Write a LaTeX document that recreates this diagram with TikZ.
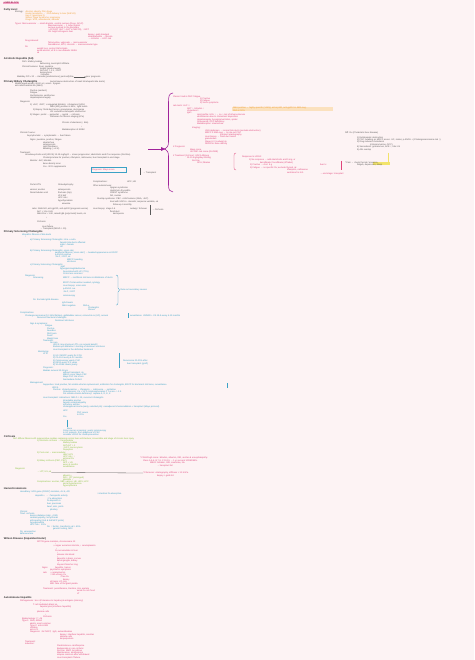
\documentclass[tikz,border=0pt]{standalone}
\usepackage{fontspec}
\setmainfont{Liberation Sans}
\usetikzlibrary{arrows.meta}
\definecolor{bg}{HTML}{FDF3F4}
\definecolor{hd}{HTML}{2E2E2E}
\definecolor{pk}{HTML}{E0457B}
\definecolor{orn}{HTML}{EE9B2A}
\definecolor{dk}{HTML}{5A5A5A}
\definecolor{bl}{HTML}{3BA2C6}
\definecolor{gr}{HTML}{86C23A}
\definecolor{pu}{HTML}{A0229A}
\definecolor{yel}{HTML}{F2E36A}
\definecolor{ohl}{HTML}{FBE1BE}
\definecolor{tbox}{HTML}{F4A3C6}
\newcounter{tlc}
\newcommand\fs{\fontsize{2.2}{2.4}\selectfont}
\newcommand\Tx[4]{\stepcounter{tlc}\node[tx,text=#3] (t\arabic{tlc}) at (#1,#2) {#4};}
\newcommand\Hd[3]{\node[hdg] (#1) at (4,#2) {#3};}
\tikzset{
  tx/.style={anchor=west,inner sep=0pt,outer sep=0pt,font=\fs},
  hdg/.style={anchor=west,inner sep=0pt,outer sep=0pt,text=hd,font=\fontsize{2.6}{2.8}\selectfont\bfseries},
  brk/.style={line width=0.3pt},
}
\begin{document}
\begin{tikzpicture}[x=1pt,y=-1pt]
\useasboundingbox (0,0) rectangle (474,660);
\fill[bg] (0,0) rectangle (474,660);
% title box
\node[anchor=west,fill=tbox,inner sep=0.6pt,text=pk!70!black,font=\fs\bfseries] (title) at (3,3) {LIVER BLOCK};
% ---------- Section 1
\Hd{h1}{10}{Fatty Liver:}
\Tx{15}{12}{dk}{Etiology:}
\Tx{25.5}{12}{orn}{Alcohol, obesity, DM, drugs}
\Tx{25.5}{14}{orn}{Insulin resistance → ↑FFA delivery to liver (NAFLD)}
\Tx{25.5}{16}{orn}{Hep C (genotype 3)}
\Tx{25.5}{18}{orn}{Wilson, Reye syndrome, pregnancy}
\Tx{25.5}{20}{orn}{Drugs: MTX, amiodarone, steroids}
\Tx{15}{24}{pk}{Types: Microvesicular → small droplets, central nucleus (Reye, AFLP)}
\Tx{48}{26}{pk}{Macrovesicular → 1 large droplet}
\Tx{48}{28}{pk}{nucleus pushed to the periphery}
\Tx{48}{30}{pk}{↑ AST/ALT (ALT > AST in NAFLD), ↑ GGT}
\Tx{48}{32}{pk}{US: bright echogenic liver}
\Tx{88}{35}{pk}{biopsy: gold standard}
\Tx{88}{37}{pk}{steatohepatitis → fibrosis}
\Tx{88}{39}{pk}{→ cirrhosis → HCC risk}
\Tx{25}{41}{pk}{Drug induced:}
\Tx{48}{43}{pk}{Tetracycline, valproate → microvesicular}
\Tx{48}{45}{pk}{Amiodarone, MTX, steroids → macrovesicular type}
\Tx{25}{47}{pk}{Rx:}
\Tx{37}{49}{pk}{weight loss, control DM \& lipids}
\Tx{37}{51}{pk}{avoid alcohol; vit E in non-diabetic NASH}
\Tx{37}{53}{pk}{ok}
% ---------- Section 2
\Hd{h2}{59}{Alcoholic Hepatitis (AH)}
\Tx{22}{62}{dk}{Path: Mallory bodies}
\Tx{40}{64}{dk}{ballooning, neutrophil infiltrate}
\Tx{22}{67}{dk}{Clinical features: fever, jaundice}
\Tx{40}{69}{dk}{tender hepatomegaly}
\Tx{40}{71}{dk}{AST:ALT > 2:1, ↑GGT}
\Tx{40}{73}{dk}{leukocytosis}
\Tx{40}{75}{dk}{↑ bilirubin}
\node[tx,text=dk] (mad) at (17,77) {Maddrey DF ≥ 32 → steroids (prednisolone); pentoxifylline};
\node[tx,text=dk] (pp) at (86,77) {poor prognosis};
\draw[dk,brk,-{Stealth[length=1.5pt,width=1.2pt]}] (mad.east) -- (pp.west);
% ---------- Section 3
\Hd{h3}{82}{Primary Biliary Cholangitis}
\Tx{50}{82}{dk}{(autoimmune destruction of small intrahepatic bile ducts)}
\Tx{15}{84}{dk}{Middle aged women 40-60 yrs; assoc. Sjogren}
\Tx{15}{86}{dk}{anti-mitochondrial Ab (AMA)}
\Tx{30}{91}{dk}{Pruritus (earliest)}
\Tx{30}{93}{dk}{Fatigue}
\Tx{30}{96}{dk}{Xanthelasma, xanthomas}
\Tx{30}{98}{dk}{Hepatosplenomegaly}
\Tx{20}{102}{dk}{Diagnosis:}
\Tx{30}{105}{dk}{1) ↑ALP, ↑GGT, ↑conjugated bilirubin; ↑cholesterol (HDL)}
\Tx{50}{107}{dk}{AMA (M2) positive in 95\%; ↑IgM levels}
\Tx{33}{109.5}{dk}{2) Biopsy: florid duct lesion, granulomas, ductopenia}
\Tx{50}{112}{dk}{US: exclude extrahepatic obstruction}
\Tx{30}{114.5}{dk}{3) Stages: portal → periportal → septal → cirrhosis}
\Tx{50}{117}{dk}{Fibroscan for fibrosis staging (kPa)}
\Tx{62}{123}{dk}{Chronic cholestasis (↓ bile)}
\Tx{81}{127}{dk}{↓}
\Tx{62}{130}{dk}{Malabsorption of ADEK}
\Tx{20}{133}{dk}{Clinical Course:}
\Tx{27}{136}{dk}{Asymptomatic → symptomatic → liver failure}
\Tx{30}{140}{dk}{Signs: jaundice, pruritus, fatigue}
\Tx{43}{143}{dk}{steatorrhea}
\Tx{43}{145}{dk}{osteoporosis}
\Tx{43}{147}{dk}{night blindness}
\Tx{43}{149}{dk}{bleeding (↓ vit K)}
\Tx{20}{153}{dk}{Treatment:}
\Tx{25}{155}{dk}{Ursodeoxycholic acid (UDCA) 13-15 mg/kg/d → slows progression; obeticholic acid if no response (2nd line)}
\Tx{43}{157.5}{dk}{Cholestyramine for pruritus; rifampicin, naltrexone; liver transplant in end stage}
\Tx{30}{161}{dk}{Monitor: ALP, bilirubin}
\Tx{43}{164}{dk}{bone density scan}
\Tx{43}{167}{dk}{Ca + Vit D supplements}
\Tx{92}{170}{pk}{Prognosis: Mayo score}
\Tx{143}{173}{dk}{→ Transplant}
\Tx{93}{182}{dk}{Complications:}
\Tx{127}{182}{dk}{HCC, HE}
\Tx{30}{185}{dk}{Portal HTN}
\Tx{58}{185}{dk}{Osteodystrophy}
\Tx{30}{190}{dk}{varices; ascites}
\Tx{58}{190}{dk}{osteoporosis}
\Tx{30}{193}{dk}{Renal tubular acid.}
\Tx{58}{193}{dk}{fractures (hip)}
\Tx{58}{195.5}{dk}{Vit K def}
\Tx{58}{198}{dk}{HCC risk ↑}
\Tx{58}{201}{dk}{hypothyroidism}
\Tx{62}{203.5}{dk}{anaemia}
\Tx{93}{186}{dk}{Other autoimmune:}
\Tx{110}{188}{dk}{Sjogren syndrome}
\Tx{110}{190.5}{dk}{Hashimoto thyroiditis}
\Tx{110}{193}{dk}{CREST syndrome}
\Tx{110}{195.5}{dk}{RA, coeliac}
\Tx{97}{199}{dk}{Overlap syndrome: PBC + AIH features (ANA, ↑ALT)}
\Tx{110}{202}{dk}{treat with UDCA + steroids; response variable, ok}
\Tx{113}{204.5}{dk}{follow up 6 monthly}
\Tx{32}{209}{dk}{Labs: AMA-M2, anti-gp210, anti-sp100 (prognosis worse)}
\Tx{37}{211.5}{dk}{ALP > 1.5x ULN}
\Tx{37}{213.5}{dk}{AMA titre > 1:40, raised IgM (polyclonal) levels, ok}
\Tx{93}{209}{dk}{Liver biopsy: stage 1-4}
\Tx{110}{211.5}{dk}{florid duct}
\Tx{113}{214}{dk}{ductopenia}
\Tx{130}{209}{dk}{Ludwig / Scheuer}
\Tx{152}{210}{dk}{→ Cirrhosis}
\Tx{46}{218}{dk}{↓}
\Tx{37}{222}{dk}{Cirrhosis}
\Tx{49}{225}{dk}{↓}
\Tx{42}{227}{dk}{Liver failure}
\Tx{40}{229}{dk}{→ Transplant (MELD > 15)}
\draw[dk,brk] (150,205) -- (150,215);
\draw[bl,brk] (91,167.5) rectangle (126,172.5);
\draw[dk,brk] (140,168) -- (140,175);
% ---------- top right (pink)
\Tx{173}{96.5}{pk}{Classic triad in PBC: fatigue}
\Tx{200}{98.5}{pk}{1) Pruritus}
\Tx{200}{100.5}{pk}{2) Fatigue}
\Tx{200}{102.5}{pk}{3) Sicca symptoms}
\Tx{173}{106}{pk}{Lab tests: ALP ↑↑}
\Tx{187}{108.5}{pk}{GGT ↑, bilirubin ↑}
\Tx{187}{111}{pk}{cholesterol ↑}
\Tx{187}{113}{pk}{IgM ↑}
\fill[ohl] (232,107) rectangle (333,111.5);
\Tx{233}{108.3}{orn}{AMA positive → highly specific (>95\%); anti-sp100, anti-gp210 in AMA neg.}
\Tx{233}{110.3}{orn}{ANA in 50\%}
\Tx{197}{115}{pk}{Lipid profile: HDL ↑ → no ↑ risk of atherosclerosis}
\Tx{197}{117}{pk}{xanthelasma due to cholesterol deposition}
\Tx{197}{119.5}{pk}{Hepatomegaly, hyperpigmentation, spider}
\Tx{197}{122}{pk}{Osteopenia; Vit D deficiency}
\Tx{197}{124}{pk}{Malabsorption: steatorrhea}
\Tx{192}{128}{pk}{Imaging:}
\Tx{205}{131}{pk}{USG abdomen → normal bile ducts (exclude obstruction)}
\Tx{205}{133}{pk}{MRCP if AMA neg → to rule out PSC}
\Tx{220}{135}{pk}{transient elastography}
\Tx{205}{137}{pk}{Liver biopsy → florid duct lesion}
\Tx{205}{139}{pk}{granulomas}
\Tx{205}{142}{pk}{Stage I-IV (Ludwig) ok}
\Tx{205}{144}{pk}{DEXA for bone density}
\Tx{173}{147}{pk}{\# Prognosis:}
\Tx{190}{150}{pk}{Mayo score}
\Tx{190}{152}{pk}{UK-PBC risk score (GLOBE)}
\Tx{173}{156}{pk}{\# Treatment (1st line): UDCA lifelong}
\Tx{187}{158}{pk}{13-15 mg/kg/day lifelong}
\Tx{192}{161}{pk}{2nd line}
\Tx{197}{163}{pk}{OCA, fibrates}
\draw[pk,brk] (236,153) .. controls (234,153) and (234,154) .. (234,156) -- (234,167) .. controls (234,169) and (234,170) .. (236,170);
\Tx{242}{157}{pk}{Response to UDCA:}
\Tx{249}{160}{pk}{1) No response → add obeticholic acid 5 mg, or}
\Tx{260}{162.5}{pk}{bezafibrate / fenofibrate (off label)}
\Tx{250}{165}{pk}{2) Pruritus → chol. 4 g}
\Tx{250}{167.5}{pk}{3) Fatigue → no specific Rx; exclude thyroid, ok}
\Tx{287}{170}{pk}{rifampicin, naltrexone}
\Tx{287}{172.5}{pk}{sertraline for itch}
\Tx{320}{165}{pk}{liver tx}
\draw[pk,brk] (341,161) -- (341,170);
\Tx{320}{173.5}{pk}{→ end stage: transplant}
\fill[yel] (373,162) rectangle (390,164.6);
\draw[yel,line width=0.5pt] (388.5,153) -- (388.5,162);
\Tx{345}{163}{dk}{* Pain → check thyroid / anaemia}
\Tx{357}{165.3}{dk}{fatigue, depression, sleep}
\Tx{345}{133}{dk}{Diff. Dx (Cholestatic liver disease)}
\Tx{357}{138}{dk}{1) Extrahepatic obstruction}
\Tx{357}{140}{dk}{2) PSC: beading on MRCP, assoc. UC, males; p-ANCA + (Cholangiocarcinoma risk ↑)}
\Tx{357}{142}{dk}{3) Drug induced cholestasis}
\Tx{370}{144.5}{dk}{(chlorpromazine, OCP)}
\Tx{357}{147}{dk}{4) Sarcoidosis: granulomas, ACE ↑, hilar LN}
\Tx{357}{149.5}{dk}{5) AIH overlap}
% purple brace + arrow
\draw[pu,line width=0.55pt] (173,93) .. controls (169,93.5) and (168.5,96) .. (168.5,102) -- (168.5,142) .. controls (168.5,146) and (167,148) .. (165,149) .. controls (167,150) and (168.5,152) .. (168.5,156) -- (168.5,185) .. controls (168.5,190) and (170,192) .. (173,192);
\coordinate (pa) at (148,149);
\coordinate (pb) at (166,149);
\draw[pu,line width=0.4pt,-{Triangle[length=5pt,width=3.5pt]}] (pa) -- (pb);
% ---------- Section 4 (blue)
\Hd{h4}{232}{Primary Sclerosing Cholangitis}
\Tx{22}{234.5}{bl}{Idiopathic fibrosis of bile ducts}
\Tx{25}{237}{bl}{↓}
\Tx{30}{240}{bl}{a) Primary Sclerosing Cholangitis: intra + extra}
\Tx{60}{243}{bl}{hepatic bile ducts affected}
\Tx{60}{245}{bl}{male > female}
\Tx{60}{247}{bl}{UC}
\Tx{30}{251}{bl}{b) Primary Sclerosing Cholangitis: onion skin}
\Tx{55}{253}{bl}{periductal fibrosis ('onion skin') → beaded appearance on ERCP}
\Tx{55}{255}{bl}{p-ANCA positive}
\Tx{55}{257}{bl}{↑ALP, ↑GGT, ok}
\Tx{67}{260}{bl}{MRCP: beading}
\Tx{67}{262}{bl}{strictures}
\Tx{30}{265}{bl}{c) Primary Sclerosing Cholangitis:}
\Tx{60}{267}{bl}{↑IgM}
\Tx{60}{269}{bl}{hypergammaglobulinemia}
\Tx{63}{272}{bl}{Associated with UC (70\%)}
\Tx{63}{274}{bl}{Crohn less common}
\Tx{25}{275.5}{bl}{Diagnosis:}
\Tx{33}{277.5}{bl}{Sclerosing}
\Tx{63}{277.5}{bl}{MRCP → multifocal strictures \& dilatations of ducts}
\Tx{63}{283}{bl}{ERCP if intervention needed, cytology}
\Tx{63}{286}{bl}{Liver biopsy: onion skin}
\Tx{63}{288.5}{bl}{p-ANCA +ve}
\Tx{63}{292}{bl}{↑ALP, ↑GGT}
\Tx{63}{296}{bl}{colonoscopy}
\draw[bl,brk] (116,275) .. controls (118,275) and (118,276) .. (118,278) -- (118,288) -- (119.5,290) -- (118,292) -- (118,303) .. controls (118,305) and (117,305) .. (116,305);
\Tx{120.5}{290}{bl}{Rule out secondary causes}
\Tx{33}{299.5}{bl}{Dx: Exclude IgG4 disease}
\Tx{62}{303}{bl}{IgG4 levels}
\Tx{62}{306}{bl}{AMA negative}
\Tx{83}{306}{bl}{ANA ±}
\Tx{88}{308}{bl}{Cholangitis}
\Tx{88}{310}{bl}{Stones}
\Tx{20}{313}{bl}{Complications}
\Tx{25}{315.5}{bl}{Cholangiocarcinoma (10-15\% lifetime), gallbladder cancer, colorectal ca (UC), annual}
\draw[bl,brk] (128,313) -- (128,318);
\Tx{130}{315.5}{bl}{surveillance: US/MRI + CA 19-9 every 6-12 months}
\Tx{37}{318}{bl}{Recurrent bacterial cholangitis}
\Tx{55}{321}{bl}{Dominant strictures}
\Tx{30}{323.5}{bl}{Sign \& symptoms:}
\Tx{45}{326}{bl}{Fatigue}
\Tx{47}{328.5}{bl}{Pruritus}
\Tx{47}{331}{bl}{Jaundice}
\Tx{47}{333.5}{bl}{RUQ pain}
\Tx{47}{336}{bl}{Fever}
\Tx{47}{338.5}{bl}{Weight loss}
\Tx{43}{341}{bl}{Treatment:}
\Tx{50}{343}{bl}{No cure}
\Tx{53}{345}{bl}{UDCA: may improve LFTs, no survival benefit}
\Tx{53}{347.3}{bl}{Endoscopic dilatation / stenting of dominant strictures}
\Tx{53}{349.5}{bl}{Liver transplant is the definitive treatment}
\Tx{38}{352}{bl}{Monitoring:}
\Tx{43}{354}{bl}{LFTs}
\Tx{53}{356}{bl}{1) US / MRCP yearly for CCA}
\Tx{53}{358.3}{bl}{2) CA 19-9 every 6-12 months}
\Tx{53}{360.5}{bl}{3) Colonoscopy yearly if UC}
\Tx{53}{363}{bl}{4) DEXA every 2-3 years}
\Tx{53}{365.3}{bl}{5) Vit ADEK levels yearly}
\draw[bl,brk] (119,353) -- (119,368);
\Tx{123}{361}{bl}{Recurrence 20-25\% after}
\Tx{127}{363.5}{bl}{liver transplant (graft)}
\Tx{43}{367.5}{bl}{Prognosis:}
\Tx{43}{371}{bl}{Median survival 12-18 yrs}
\Tx{63}{373}{bl}{without transplant, ok}
\Tx{63}{375}{bl}{MELD score, Mayo PSC}
\Tx{63}{377}{bl}{Mayo PSC risk score}
\Tx{63}{379.3}{bl}{Amsterdam-Oxford}
\Tx{30}{383}{bl}{Management}
\Tx{43}{385.3}{bl}{Supportive: treat pruritus, fat soluble vitamin replacement, antibiotics for cholangitis, ERCP for dominant strictures, surveillance}
\draw[bl,brk] (227.5,383) -- (227.5,388);
\Tx{52}{387.5}{bl}{UDCA}
\Tx{53}{389.5}{bl}{Pruritus: cholestyramine → rifampicin → naltrexone → sertraline}
\Tx{63}{392}{bl}{Osteoporosis: Ca + Vit D, bisphosphonates if T-score < -2.5}
\Tx{63}{394.3}{bl}{Fat soluble vitamin deficiency: replace A, D, E, K}
\Tx{43}{398}{bl}{Liver transplant: indications: MELD > 15, recurrent cholangitis}
\Tx{63}{401}{bl}{intractable pruritus}
\Tx{63}{403}{bl}{hepatic encephalopathy}
\Tx{63}{405}{bl}{refractory ascites}
\Tx{63}{407.3}{bl}{cholangiocarcinoma (early, selected pts): neoadjuvant chemoradiation + transplant (Mayo protocol)}
\Tx{63}{411}{bl}{HCC}
\Tx{77}{413}{bl}{PSC recurs}
\Tx{77}{415}{bl}{in 20\%}
\Tx{63}{417}{bl}{Ca ↓}
\draw[bl,brk] (67,419.5) -- (67,427);
\Tx{67}{428.5}{bl}{Bone}
\Tx{63}{431}{bl}{Colon cancer screening: yearly colonoscopy}
\Tx{63}{433}{bl}{in UC patients, from diagnosis of PSC}
\Tx{63}{435}{bl}{consider UDCA for chemoprevention}
% ---------- Section 5 (green)
\Hd{h5}{436.5}{Cirrhosis}
\Tx{13}{438.5}{gr}{Def: diffuse fibrosis with regenerative nodules replacing normal liver architecture; irreversible end stage of chronic liver injury}
\Tx{37}{441}{gr}{1) Alcoholic cirrhosis → micronodular}
\Tx{63}{443}{gr}{Mallory bodies}
\Tx{63}{445.5}{gr}{AST:ALT > 2}
\Tx{63}{448}{gr}{↑GGT, macrocytosis}
\Tx{63}{450}{gr}{Dupuytren}
\Tx{37}{453}{gr}{2) Post-viral → macronodular}
\Tx{63}{455}{gr}{HBV, HCV}
\Tx{63}{457}{gr}{HCC risk ↑↑}
\Tx{63}{459}{gr}{antiviral Rx}
\Tx{37}{461}{gr}{3) Biliary cirrhosis (PBC, PSC)}
\Tx{63}{463}{gr}{AFP + US}
\Tx{63}{465}{gr}{every 6 months}
\Tx{63}{467}{gr}{surveillance}
\Tx{140}{458}{pk}{* Child-Pugh score: bilirubin, albumin, INR, ascites \& encephalopathy}
\Tx{143}{460.5}{pk}{Class A 5-6, B 7-9, C 10-15 → 1 yr survival 100/80/45\%}
\Tx{150}{463}{pk}{MELD: bilirubin, INR, creatinine, Na}
\Tx{157}{465.5}{pk}{→ transplant list}
\Tx{15}{469}{gr}{Diagnosis:}
\node[tx,text=gr] (dgl) at (37,471.5) {→ LFT, US, ok};
\node[tx,text=pk] (fib) at (143,473) {* Fibroscan: elastography, stiffness > 12.5 kPa};
\draw[dk,brk] (dgl.south east) -- (fib.west);
\Tx{157}{475.5}{pk}{biopsy = gold std}
\Tx{63}{475.5}{gr}{albumin ↓}
\Tx{63}{477.5}{gr}{INR ↑ (PT prolonged)}
\Tx{63}{479.5}{gr}{platelets ↓}
\Tx{37}{481.5}{gr}{Complications: ascites, SBP, varices, HE, HRS, HCC}
\Tx{63}{483.5}{gr}{portal hypertension}
\Tx{63}{485.5}{gr}{hypersplenism}
% ---------- Section 6 (blue)
\Hd{h6}{489}{Hemochromatosis}
\Tx{20}{491.5}{bl}{Hereditary: HFE gene (C282Y) mutation, chr 6, AR}
\Tx{97}{493.5}{bl}{↑ intestinal Fe absorption}
\Tx{35}{496}{bl}{Hepcidin ↓ → ↑ ferroportin activity}
\Tx{47}{498.5}{bl}{↑ Fe absorption}
\Tx{47}{501}{bl}{Fe deposits in}
\Tx{47}{503.5}{bl}{liver, pancreas}
\Tx{47}{507}{bl}{heart, skin, joints}
\Tx{50}{509.5}{bl}{pituitary}
\Tx{20}{512}{bl}{Clinical:}
\Tx{20}{514}{bl}{Triad: cirrhosis}
\Tx{30}{516}{bl}{bronze diabetes (skin + DM)}
\Tx{30}{518.3}{bl}{cardiomyopathy, arrhythmias}
\Tx{30}{521}{bl}{arthropathy (2nd \& 3rd MCP joints)}
\Tx{30}{523}{bl}{hypogonadism}
\Tx{30}{525}{bl}{HCC risk ↑ 200x}
\Tx{47}{527}{bl}{Dx: ↑ ferritin, transferrin sat > 45\%}
\Tx{53}{529.3}{bl}{genetic testing, MRI}
\Tx{20}{532}{bl}{Rx: venesection}
\Tx{20}{534}{bl}{deferoxamine}
% ---------- Section 7 (pink)
\Hd{h7}{539}{Wilson Disease (Hepatolenticular)}
\Tx{37}{542}{pk}{ATP7B gene mutation, chromosome 13}
\Tx{55}{544}{pk}{↓}
\Tx{53}{546}{pk}{↓ copper excretion into bile, ↓ ceruloplasmin}
\Tx{56}{548.5}{pk}{↓}
\Tx{55}{551}{pk}{Cu accumulates in liver}
\Tx{57}{553}{pk}{↓}
\Tx{57}{555}{pk}{release into blood}
\Tx{57}{557}{pk}{↓}
\Tx{57}{559}{pk}{deposits in brain, cornea}
\Tx{57}{561}{pk}{basal ganglia, kidney}
\Tx{58}{563}{pk}{↓}
\Tx{57}{565}{pk}{Kayser-Fleischer ring}
\Tx{42}{567.5}{pk}{Signs:}
\Tx{55}{567.5}{pk}{hepatitis, tremor}
\Tx{50}{570}{pk}{psychiatric symptoms}
\Tx{43}{573}{pk}{Lab:}
\Tx{50}{573}{pk}{↓ ceruloplasmin}
\Tx{50}{575}{pk}{↑ 24h urinary Cu}
\Tx{60}{577}{pk}{↑ free Cu}
\Tx{63}{579.5}{pk}{biopsy}
\Tx{50}{582}{pk}{slit lamp: KF ring}
\Tx{50}{584}{pk}{MRI: face of the giant panda}
\Tx{43}{589}{pk}{Treatment: penicillamine, trientine, zinc acetate}
\Tx{77}{591}{pk}{avoid Cu rich food}
\Tx{77}{593.3}{pk}{LT}
% ---------- Section 8 (pink)
\Hd{h8}{598}{Autoimmune Hepatitis}
\Tx{20}{601}{pk}{Pathogenesis: loss of tolerance to hepatocyte antigens (mimicry)}
\Tx{40}{603}{pk}{↓}
\Tx{33}{605}{pk}{T cell mediated attack on}
\Tx{40}{607.3}{pk}{hepatocytes (interface hepatitis)}
\Tx{43}{610}{pk}{↓}
\Tx{37}{612}{pk}{plasma cells}
\Tx{45}{614.5}{pk}{↓}
\Tx{43}{617}{pk}{Cirrhosis}
\Tx{22}{619}{pk}{Epidemiology: F > M}
\Tx{22}{621.3}{pk}{Type 1: ANA, ASMA}
\Tx{30}{623.5}{pk}{adults, most common}
\Tx{30}{626}{pk}{Type 2: anti-LKM1}
\Tx{30}{628}{pk}{children}
\Tx{30}{630}{pk}{anti-LC1}
\Tx{30}{632.3}{pk}{Diagnosis: ↑ALT/AST, ↑IgG, autoantibodies}
\Tx{60}{634.5}{pk}{biopsy: interface hepatitis, rosettes}
\Tx{60}{637}{pk}{plasma cells}
\Tx{60}{639}{pk}{emperipolesis}
\Tx{25}{642}{pk}{Treatment:}
\Tx{25}{644}{pk}{Induction:}
\Tx{57}{646}{pk}{Prednisolone ± azathioprine}
\Tx{57}{648.3}{pk}{Budesonide in non-cirrhotic}
\Tx{57}{651}{pk}{2nd line: MMF, tacrolimus}
\Tx{57}{653}{pk}{Maintenance: azathioprine}
\Tx{57}{655.3}{pk}{relapse common after withdrawal}
\Tx{57}{657.5}{pk}{Liver transplant if failure}
\end{tikzpicture}
\end{document}
